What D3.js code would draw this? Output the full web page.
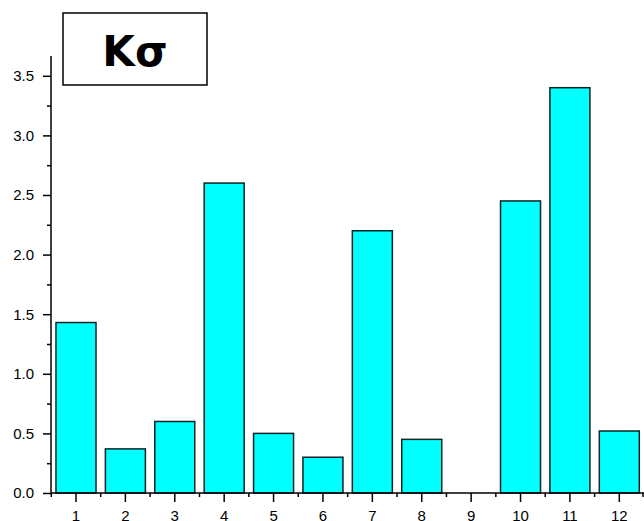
<!DOCTYPE html>
<html>
<head>
<meta charset="utf-8">
<script src="https://cdn.jsdelivr.net/npm/d3@7"></script>
<style>
  html, body { margin: 0; padding: 0; background: #fff; }
  svg { display: block; }
</style>
</head>
<body>
<svg id="chart" width="644" height="521"></svg>
<script>
// Categories along the x axis and the measured value for each
const categories = ["1", "2", "3", "4", "5", "6", "7", "8", "9", "10", "11", "12"];
const values = [1.43, 0.37, 0.60, 2.60, 0.50, 0.30, 2.20, 0.45, 0.00, 2.45, 3.40, 0.52];
const yMajorTicks = [0.0, 0.5, 1.0, 1.5, 2.0, 2.5, 3.0, 3.5];
const yMinorTicks = [0.25, 0.75, 1.25, 1.75, 2.25, 2.75, 3.25];
const titleText = "Kσ";

const svg = d3.select("#chart");
const plotLeft = 51, plotRight = 644, plotBottom = 493, plotTop = 56;

const x = d3.scaleBand().domain(categories).range([plotLeft + 0.3, plotRight]).paddingInner(0.19).paddingOuter(0.095);
const xStep = d3.scaleBand().domain(categories).range([plotLeft + 0.3, plotRight]);
const y = d3.scaleLinear().domain([0, 3.666]).range([plotBottom, plotTop]);

const font = "'Liberation Sans', Arial, sans-serif";

// Bars
svg.append("g").selectAll("rect")
  .data(values)
  .join("rect")
  .attr("x", (d, i) => x(categories[i]))
  .attr("y", d => y(d))
  .attr("width", x.bandwidth())
  .attr("height", d => y(0) - y(d))
  .attr("fill", "#00ffff")
  .attr("stroke", d => d > 0 ? "#0d2424" : "none")
  .attr("stroke-width", 1.5);

// Y axis: major ticks with labels, minor ticks without
const yAxis = svg.append("g").attr("transform", `translate(${plotLeft},0)`)
  .call(d3.axisLeft(y).tickValues(yMajorTicks).tickFormat(d3.format(".1f")).tickSize(8).tickPadding(9));
yAxis.select(".domain").attr("d", `M0,${y.range()[1]}V${y.range()[0]}`);
svg.append("g").attr("transform", `translate(${plotLeft},0)`)
  .call(d3.axisLeft(y).tickValues(yMinorTicks).tickFormat("").tickSize(4))
  .select(".domain").remove();

// X axis: major ticks at category centres, minor ticks between categories
const xAxis = svg.append("g").attr("transform", `translate(0,${plotBottom})`)
  .call(d3.axisBottom(xStep).tickSize(9).tickPadding(8).tickSizeOuter(0));
xAxis.select(".domain").attr("d", `M${plotLeft},0H${plotRight}`);
const boundaries = categories.map(c => xStep(c)).concat([plotRight - 1]);
svg.append("g").selectAll("line")
  .data(boundaries)
  .join("line")
  .attr("x1", d => d).attr("x2", d => d)
  .attr("y1", plotBottom).attr("y2", plotBottom + 4)
  .attr("stroke", "#000").attr("stroke-width", 1.5);

svg.selectAll(".tick line, .domain").attr("stroke", "#000").attr("stroke-width", 1.5);
svg.selectAll(".tick text").attr("font-family", font).attr("font-size", 15).attr("fill", "#000");

// Title box
svg.append("rect")
  .attr("x", 63).attr("y", 13).attr("width", 144).attr("height", 72)
  .attr("fill", "#fff").attr("stroke", "#000").attr("stroke-width", 1.5);
svg.append("text")
  .attr("x", 135).attr("y", 66)
  .attr("text-anchor", "middle")
  .attr("font-family", "'DejaVu Sans', Verdana, sans-serif")
  .attr("font-weight", "bold")
  .attr("font-size", 42)
  .text(titleText);
</script>
</body>
</html>
